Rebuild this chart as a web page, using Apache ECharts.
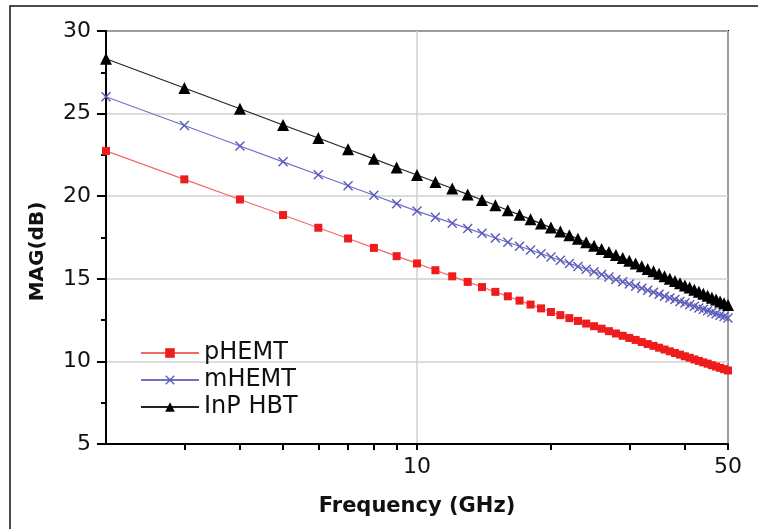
<!DOCTYPE html>
<html lang="en">
<head>
    <meta charset="UTF-8">
    <title>MAG vs Frequency</title>
    <script src="https://cdn.jsdelivr.net/npm/echarts@6/dist/echarts.min.js"></script>
    <style>
        html, body {
            margin: 0;
            padding: 0;
            background: #fff;
        }
        #chart {
            width: 758px;
            height: 529px;
        }
    </style>
</head>
<body>
<div id="chart"></div>
<script>
    // frequency points (GHz), one per GHz
    var freq = [2, 3, 4, 5, 6, 7, 8, 9, 10, 11, 12, 13, 14, 15, 16, 17, 18, 19, 20,
        21, 22, 23, 24, 25, 26, 27, 28, 29, 30, 31, 32, 33, 34, 35, 36, 37, 38, 39, 40,
        41, 42, 43, 44, 45, 46, 47, 48, 49, 50];

    // MAG (dB)
    var pHEMT = [22.74, 21.02, 19.80, 18.86, 18.09, 17.44, 16.87, 16.37, 15.93, 15.52,
        15.15, 14.81, 14.50, 14.21, 13.94, 13.68, 13.44, 13.21, 12.99,
        12.80, 12.62, 12.45, 12.29, 12.13, 11.98, 11.83, 11.69, 11.55, 11.42,
        11.30, 11.17, 11.05, 10.94, 10.83, 10.72, 10.61, 10.51, 10.41, 10.31,
        10.22, 10.12, 10.03, 9.94, 9.86, 9.77, 9.69, 9.61, 9.53, 9.45];
    var mHEMT = [26.02, 24.28, 23.04, 22.08, 21.30, 20.63, 20.06, 19.55, 19.10, 18.72,
        18.37, 18.05, 17.75, 17.47, 17.21, 16.97, 16.74, 16.52, 16.32,
        16.12, 15.93, 15.75, 15.58, 15.42, 15.26, 15.11, 14.96, 14.82, 14.69,
        14.55, 14.43, 14.30, 14.18, 14.07, 13.95, 13.84, 13.74, 13.63, 13.53,
        13.43, 13.34, 13.24, 13.15, 13.06, 12.97, 12.88, 12.80, 12.72, 12.63];
    var inpHBT = [28.32, 26.55, 25.29, 24.31, 23.52, 22.84, 22.26, 21.74, 21.28, 20.86,
        20.47, 20.11, 19.77, 19.45, 19.15, 18.87, 18.60, 18.34, 18.10,
        17.86, 17.63, 17.42, 17.21, 17.00, 16.81, 16.62, 16.44, 16.26, 16.09,
        15.92, 15.76, 15.60, 15.45, 15.30, 15.15, 15.01, 14.87, 14.73, 14.60,
        14.47, 14.34, 14.22, 14.10, 13.98, 13.86, 13.74, 13.63, 13.52, 13.41];

    var xTickValues = [3, 4, 5, 6, 7, 8, 9, 10, 20, 30, 40, 50];
    var xLabelValues = [10, 50];

    function pairs(vals) {
        return freq.map(function (f, i) {
            return [f, vals[i]];
        });
    }

    var font = 'DejaVu Sans, Liberation Sans, sans-serif';
    var crossPath = 'path://M0,1L1,0L5,4L9,0L10,1L6,5L10,9L9,10L5,6L1,10L0,9L4,5Z';
    var gridGray = '#d2d0ce';

    var chart = echarts.init(document.getElementById('chart'));
    var option = {
        animation: false,
        backgroundColor: '#fff',
        textStyle: {fontFamily: font},
        graphic: [
            {
                type: 'rect',
                shape: {x: 10, y: 6, width: 800, height: 600},
                style: {fill: 'none', stroke: '#111', lineWidth: 1.5},
                silent: true
            }
        ],
        grid: {
            left: 106,
            top: 31,
            right: 30,
            bottom: 85,
            show: true,
            borderColor: '#000',
            borderWidth: 2,
            backgroundColor: 'transparent'
        },
        legend: {
            orient: 'vertical',
            left: 135,
            top: 336,
            itemWidth: 58,
            itemHeight: 12,
            itemGap: 3,
            textStyle: {fontSize: 24, color: '#111', fontFamily: font},
            data: ['pHEMT', 'mHEMT', 'InP HBT']
        },
        xAxis: [
            {
                type: 'log',
                logBase: 10,
                min: 2,
                max: 50,
                name: 'Frequency (GHz)',
                nameLocation: 'middle',
                nameGap: 52,
                nameTextStyle: {fontSize: 21, fontWeight: 'bold', color: '#111', fontFamily: font},
                axisLine: {lineStyle: {color: '#000', width: 2}},
                axisTick: {
                    show: true,
                    length: 6,
                    customValues: xTickValues,
                    lineStyle: {color: '#000', width: 2}
                },
                axisLabel: {
                    customValues: xLabelValues,
                    fontSize: 22,
                    color: '#111',
                    margin: 12,
                    fontFamily: font
                },
                splitLine: {show: false}
            },
            {
                // only used for the vertical grid line at the decade
                type: 'log',
                logBase: 10,
                min: 2,
                max: 50,
                position: 'bottom',
                axisLine: {show: false},
                axisTick: {show: false},
                axisLabel: {show: false},
                splitLine: {show: true, lineStyle: {color: gridGray, width: 1.5}}
            }
        ],
        yAxis: {
            type: 'value',
            min: 5,
            max: 30,
            interval: 5,
            name: 'MAG(dB)',
            nameLocation: 'middle',
            nameGap: 58,
            nameTextStyle: {
                fontSize: 20,
                fontWeight: 'bold',
                color: '#111',
                fontFamily: font,
                padding: [0, 28, 0, 0]
            },
            axisLine: {show: true, lineStyle: {color: '#000', width: 2}},
            axisTick: {show: true, length: 9, lineStyle: {color: '#000', width: 2}},
            minorTick: {show: true, splitNumber: 2, length: 5, lineStyle: {color: '#000', width: 2}},
            axisLabel: {fontSize: 22, color: '#111', margin: 15, fontFamily: font},
            splitLine: {show: true, lineStyle: {color: gridGray, width: 1.5}}
        },
        series: [
            {
                name: 'pHEMT',
                type: 'line',
                data: pairs(pHEMT),
                symbol: 'rect',
                symbolSize: 8,
                itemStyle: {color: '#ee1c1c'},
                lineStyle: {color: '#f06a6a', width: 1.2}
            },
            {
                name: 'mHEMT',
                type: 'line',
                data: pairs(mHEMT),
                symbol: crossPath,
                symbolSize: 10,
                itemStyle: {color: '#5a5ab8'},
                lineStyle: {color: '#7070c8', width: 1.2}
            },
            {
                name: 'InP HBT',
                type: 'line',
                data: pairs(inpHBT),
                symbol: 'triangle',
                symbolSize: 12,
                itemStyle: {color: '#000'},
                lineStyle: {color: '#222', width: 1.2}
            }
        ]
    };
    chart.setOption(option);
</script>
</body>
</html>
